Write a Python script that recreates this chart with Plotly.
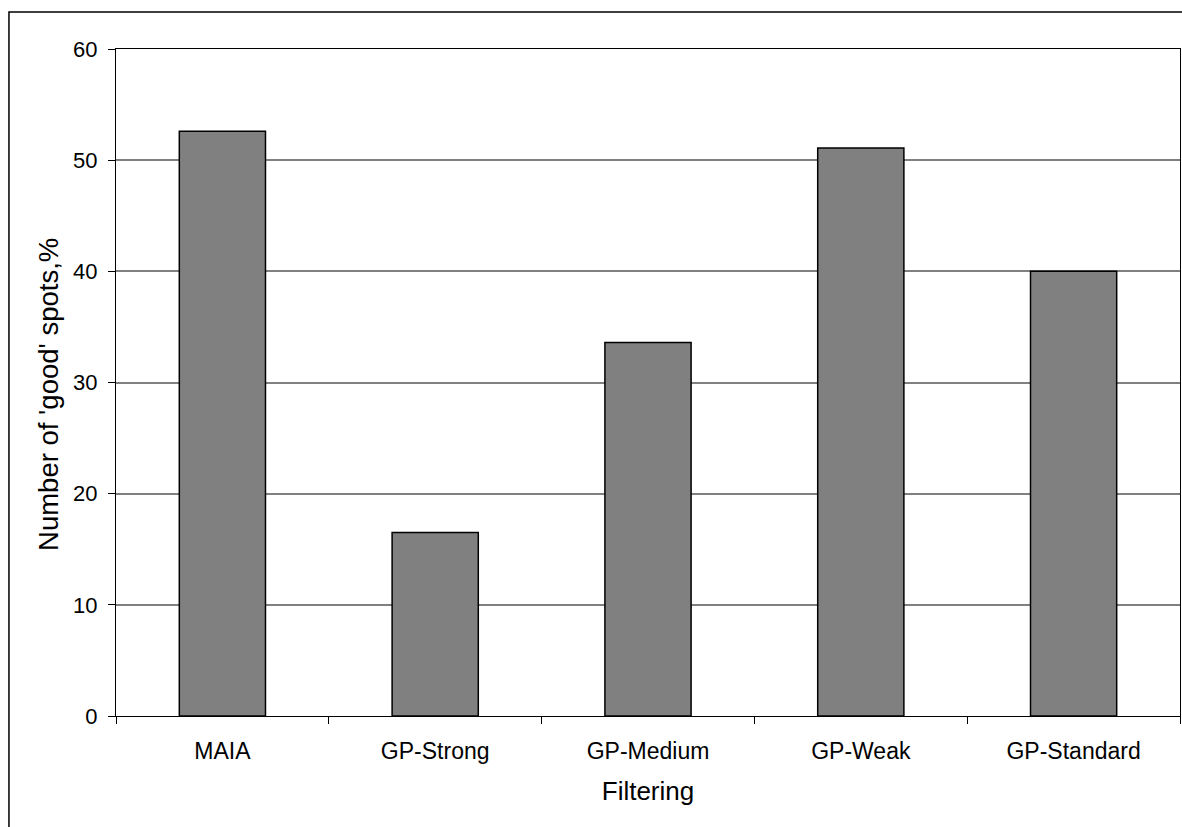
import plotly.graph_objects as go

categories = ["MAIA", "GP-Strong", "GP-Medium", "GP-Weak", "GP-Standard"]
values = [52.6, 16.5, 33.6, 51.1, 40.0]
y_ticks = [0, 10, 20, 30, 40, 50, 60]
x_title = "Filtering"
y_title = "Number of 'good' spots,%"

FONT = "Liberation Sans, Arial, sans-serif"

fig = go.Figure(go.Bar(
    x=categories, y=values,
    marker=dict(color="#808080", line=dict(color="#000000", width=1.5)),
    width=0.405,
))

fig.update_layout(
    width=1182, height=827,
    margin=dict(l=116, r=2, t=49, b=111),
    paper_bgcolor="white", plot_bgcolor="white",
    font=dict(family=FONT, color="black", size=20),
    showlegend=False,
    xaxis=dict(
        showline=True, linecolor="black", linewidth=1, mirror=True,
        ticks="outside", ticklen=7, tickcolor="black", tickson="boundaries",
        tickfont=dict(size=23, family=FONT),
        ticklabelstandoff=14,
        title=dict(text=x_title, font=dict(size=26, family=FONT), standoff=19),
        showgrid=False,
    ),
    yaxis=dict(
        range=[0, 60], tickvals=y_ticks,
        showline=True, linecolor="black", linewidth=1, mirror=True,
        ticks="outside", ticklen=7, tickcolor="black",
        tickfont=dict(size=22, family=FONT),
        ticklabelstandoff=6,
        showgrid=True, gridcolor="#808080", gridwidth=1.5,
        zeroline=False,
    ),
    annotations=[dict(text=y_title, textangle=-90, showarrow=False,
                      xref="paper", yref="paper", x=-0.063, y=0.4828,
                      xanchor="center", yanchor="middle",
                      font=dict(size=27.5, family=FONT, color="black"))],
    shapes=[dict(type="rect", xref="paper", yref="paper",
                 x0=-0.1006, x1=1.02, y0=-0.3, y1=1.0555,
                 line=dict(color="black", width=1.5), layer="below")],
)

fig.write_html(
    "out.html",
    config={"displayModeBar": False},
    post_script="document.body.style.margin='0';document.body.style.overflow='hidden';",
)
